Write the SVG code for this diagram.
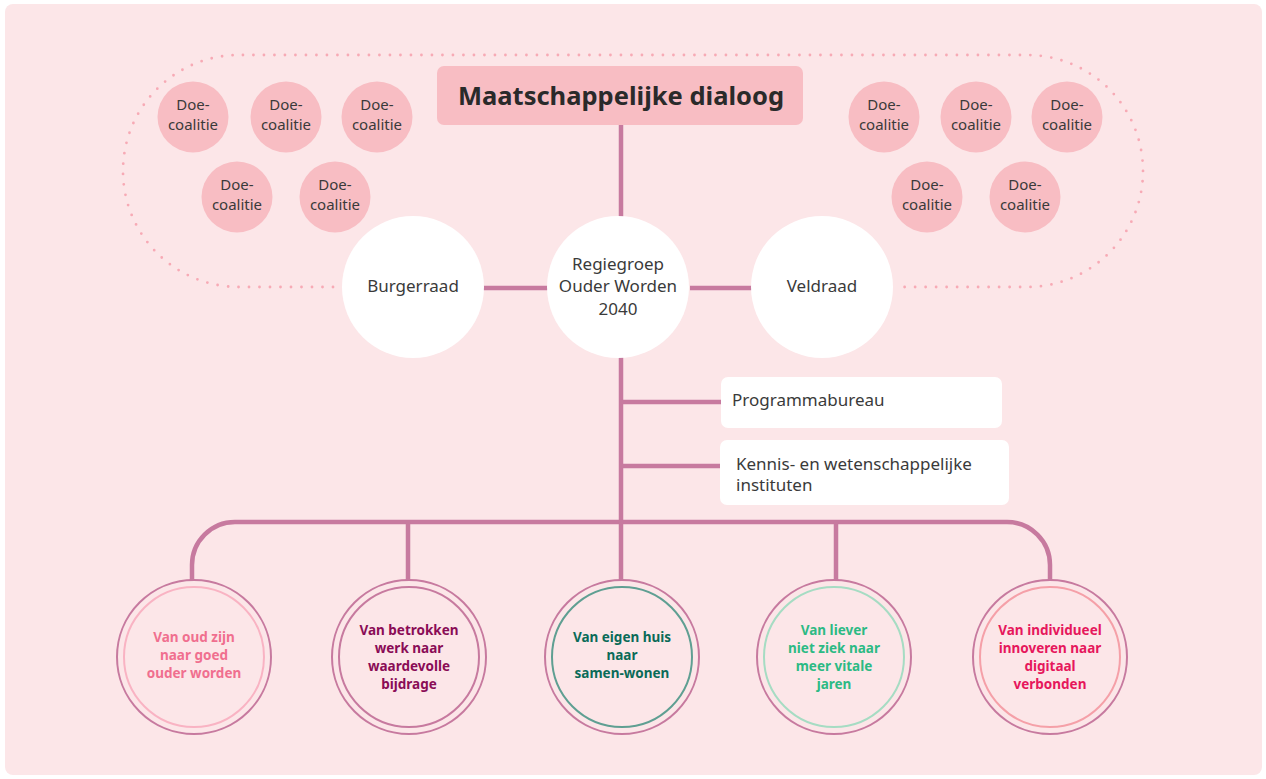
<svg xmlns="http://www.w3.org/2000/svg" width="1266" height="779" viewBox="0 0 1266 779">
<style>
text{font-family:"Noto Sans","Liberation Sans",sans-serif;}
.doe{fill:#f8bdc3;}
.doet{font-size:15px;fill:#3a3a3a;text-anchor:middle;}
.wc{fill:#ffffff;}
.wt{font-size:17px;fill:#3a3a3a;text-anchor:middle;}
.bt{font-size:17px;fill:#3a3a3a;}
.con{stroke:#c77a9f;stroke-width:4.5;fill:none;}
.outer{fill:none;stroke:#c77a9f;stroke-width:2;}
.inner{fill:none;stroke-width:2;}
.ct{font-size:13.5px;font-weight:bold;text-anchor:middle;}
</style>
<rect x="0" y="0" width="1266" height="779" fill="#ffffff"/>
<rect x="5" y="4" width="1257" height="771" rx="8" fill="#fce6e8"/>
<path d="M333,287 L239,287 A116,116 0 0 1 239,55 L1027,55 A116,116 0 0 1 1027,287 L900,287" fill="none" stroke="#f7aab5" stroke-width="2.8" stroke-linecap="round" stroke-dasharray="0 10.5"/>
<g id="connectors">
<line class="con" x1="621" y1="125" x2="621" y2="220"/>
<line class="con" x1="480" y1="288" x2="552" y2="288"/>
<line class="con" x1="690" y1="288" x2="755" y2="288"/>
<line class="con" x1="621" y1="355" x2="621" y2="522"/>
<line class="con" x1="621" y1="402" x2="723" y2="402"/>
<line class="con" x1="621" y1="466" x2="723" y2="466"/>
<path class="con" d="M192,580 L192,565 A43,43 0 0 1 235,522 L1007,522 A43,43 0 0 1 1050,565 L1050,580"/>
<line class="con" x1="408" y1="522" x2="408" y2="580"/>
<line class="con" x1="621" y1="522" x2="621" y2="580"/>
<line class="con" x1="836" y1="522" x2="836" y2="580"/>
</g>
<g id="maatschappelijke-dialoog">
<rect x="437" y="66" width="366" height="59" rx="7" fill="#f8bdc3"/>
<text x="621" y="105" font-size="25.5" font-weight="bold" fill="#2a2a2a" text-anchor="middle">Maatschappelijke dialoog</text>
</g>
<g id="doe-l1"><circle class="doe" cx="193" cy="117" r="35.5"/><text class="doet" x="193" y="110">Doe-</text><text class="doet" x="193" y="130">coalitie</text></g>
<g id="doe-l2"><circle class="doe" cx="286" cy="117" r="35.5"/><text class="doet" x="286" y="110">Doe-</text><text class="doet" x="286" y="130">coalitie</text></g>
<g id="doe-l3"><circle class="doe" cx="377" cy="117" r="35.5"/><text class="doet" x="377" y="110">Doe-</text><text class="doet" x="377" y="130">coalitie</text></g>
<g id="doe-l4"><circle class="doe" cx="237" cy="197" r="35.5"/><text class="doet" x="237" y="190">Doe-</text><text class="doet" x="237" y="210">coalitie</text></g>
<g id="doe-l5"><circle class="doe" cx="335" cy="197" r="35.5"/><text class="doet" x="335" y="190">Doe-</text><text class="doet" x="335" y="210">coalitie</text></g>
<g id="doe-r1"><circle class="doe" cx="884" cy="117" r="35.5"/><text class="doet" x="884" y="110">Doe-</text><text class="doet" x="884" y="130">coalitie</text></g>
<g id="doe-r2"><circle class="doe" cx="976" cy="117" r="35.5"/><text class="doet" x="976" y="110">Doe-</text><text class="doet" x="976" y="130">coalitie</text></g>
<g id="doe-r3"><circle class="doe" cx="1067" cy="117" r="35.5"/><text class="doet" x="1067" y="110">Doe-</text><text class="doet" x="1067" y="130">coalitie</text></g>
<g id="doe-r4"><circle class="doe" cx="927" cy="197" r="35.5"/><text class="doet" x="927" y="190">Doe-</text><text class="doet" x="927" y="210">coalitie</text></g>
<g id="doe-r5"><circle class="doe" cx="1025" cy="197" r="35.5"/><text class="doet" x="1025" y="190">Doe-</text><text class="doet" x="1025" y="210">coalitie</text></g>
<g id="burgerraad"><circle class="wc" cx="413" cy="287" r="71"/><text class="wt" x="413" y="292">Burgerraad</text></g>
<g id="regiegroep"><circle class="wc" cx="618" cy="287" r="71"/><text class="wt" x="618" y="270">Regiegroep</text><text class="wt" x="618" y="292">Ouder Worden</text><text class="wt" x="618" y="315">2040</text></g>
<g id="veldraad"><circle class="wc" cx="822" cy="287" r="71"/><text class="wt" x="822" y="292">Veldraad</text></g>
<g id="programmabureau"><rect x="721" y="377" width="281" height="51" rx="7" fill="#ffffff"/><text class="bt" x="732" y="406">Programmabureau</text></g>
<g id="kennis"><rect x="720" y="440" width="289" height="65" rx="7" fill="#ffffff"/><text class="bt" x="736" y="470">Kennis- en wetenschappelijke</text><text class="bt" x="736" y="491">instituten</text></g>
<g id="thema1"><circle class="outer" cx="194" cy="657" r="77"/><circle class="inner" cx="194" cy="657" r="70" stroke="#f9b3c3"/>
<text class="ct" fill="#f06f8f"><tspan x="194" y="642">Van oud zijn</tspan><tspan x="194" y="660">naar goed</tspan><tspan x="194" y="678">ouder worden</tspan></text></g>
<g id="thema2"><circle class="outer" cx="409" cy="657" r="77"/><circle class="inner" cx="409" cy="657" r="70" stroke="#c77a9f"/>
<text class="ct" fill="#8a0c56"><tspan x="409" y="635">Van betrokken</tspan><tspan x="409" y="653">werk naar</tspan><tspan x="409" y="671">waardevolle</tspan><tspan x="409" y="689">bijdrage</tspan></text></g>
<g id="thema3"><circle class="outer" cx="622" cy="657" r="77"/><circle class="inner" cx="622" cy="657" r="70" stroke="#5f9f92"/>
<text class="ct" fill="#0a6b58"><tspan x="622" y="642">Van eigen huis</tspan><tspan x="622" y="660">naar</tspan><tspan x="622" y="678">samen-wonen</tspan></text></g>
<g id="thema4"><circle class="outer" cx="834" cy="657" r="77"/><circle class="inner" cx="834" cy="657" r="70" stroke="#a6dcc3"/>
<text class="ct" fill="#2cba84"><tspan x="834" y="635">Van liever</tspan><tspan x="834" y="653">niet ziek naar</tspan><tspan x="834" y="671">meer vitale</tspan><tspan x="834" y="689">jaren</tspan></text></g>
<g id="thema5"><circle class="outer" cx="1050" cy="657" r="77"/><circle class="inner" cx="1050" cy="657" r="70" stroke="#f5a0a8"/>
<text class="ct" fill="#e6175c"><tspan x="1050" y="635">Van individueel</tspan><tspan x="1050" y="653">innoveren naar</tspan><tspan x="1050" y="671">digitaal</tspan><tspan x="1050" y="689">verbonden</tspan></text></g>
</svg>
